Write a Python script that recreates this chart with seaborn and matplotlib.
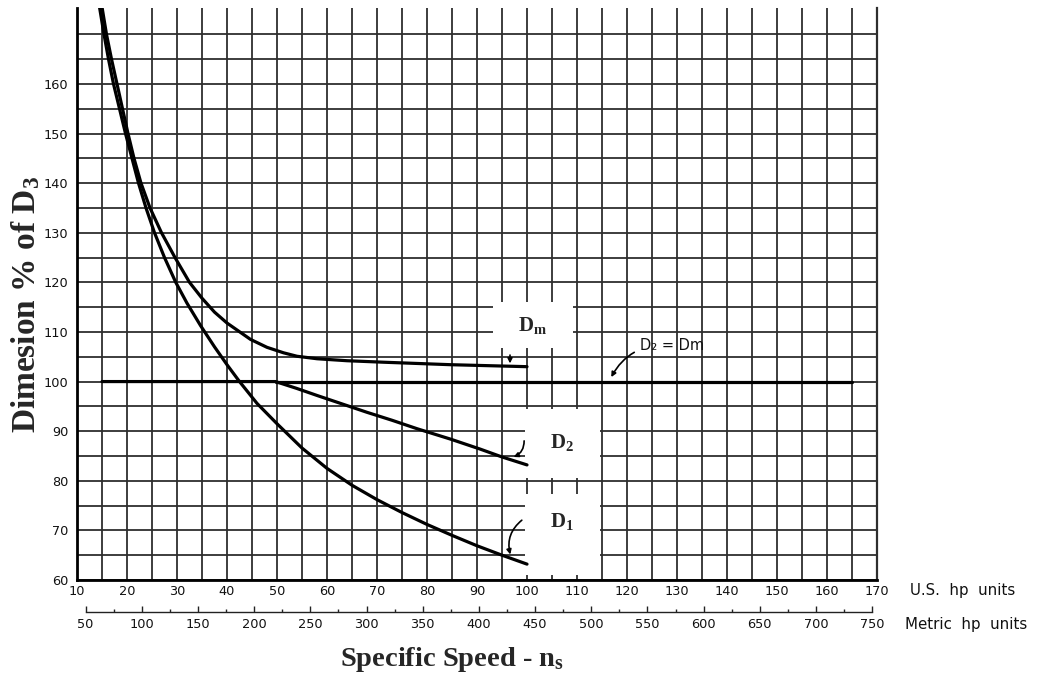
import numpy as np
import pandas as pd
import matplotlib
matplotlib.use("Agg")
import matplotlib.pyplot as plt
from matplotlib.patches import Rectangle
from matplotlib.ticker import FixedLocator
import seaborn as sns

# ---------------- data ----------------
d1_us = [14.5, 15.4, 16.3, 17.3, 18.5, 19.7, 21.0, 22.3, 23.8, 25.5, 27.5, 29.75,
         32.0, 34.7, 37.5, 40.0, 42.5, 46.0, 50.0, 55.0, 60.0, 65.0, 70.0, 75.0,
         80.0, 85.0, 90.0, 95.0, 100.0]
d1_val = [175.5, 170, 165, 160, 155, 150, 145, 140, 135, 130, 125, 120,
          115.8, 111.3, 107.0, 103.4, 100.0, 95.6, 91.5, 86.6, 82.5, 79.1, 76.2,
          73.6, 71.2, 69.0, 66.9, 65.0, 63.2]

dm_us = [15.0, 15.9, 16.9, 18.0, 19.1, 20.2, 21.4, 22.8, 24.6, 26.9, 29.6, 32.5,
         35.0, 37.5, 40.0, 44.7, 48.0, 51.3, 54.0, 58.0, 64.0, 71.3, 84.7, 100.0]
dm_val = [175.5, 170, 165, 160, 155, 150, 145, 140, 135, 130, 125, 120,
          116.8, 114.0, 111.8, 108.5, 106.9, 105.8, 105.1, 104.6, 104.2, 103.9,
          103.4, 103.0]

d2_us = [15.0, 49.7, 54.0, 58.0, 63.0, 68.0, 73.0, 78.0, 84.7, 90.6, 95.0, 100.0]
d2_val = [100, 100, 98.6, 97.2, 95.5, 93.8, 92.2, 90.5, 88.4, 86.4, 84.8, 83.2]

de_us = [49.7, 165.0]
de_val = [100, 100]

us_ticks = list(range(10, 171, 10))
y_ticks = list(range(60, 171, 10))
y_tick_labels = [str(v) for v in range(60, 161, 10)] + [""]
metric_ticks = list(range(50, 751, 50))


def us_to_metric(u):
    return (np.asarray(u) - 0.5) * 4.45


def metric_to_us(m):
    return np.asarray(m) / 4.45 + 0.5


df = pd.concat([
    pd.DataFrame({"us": d1_us, "val": d1_val, "curve": "D1"}),
    pd.DataFrame({"us": dm_us, "val": dm_val, "curve": "Dm"}),
    pd.DataFrame({"us": d2_us, "val": d2_val, "curve": "D2"}),
    pd.DataFrame({"us": de_us, "val": de_val, "curve": "De"}),
], ignore_index=True)

# ---------------- style ----------------
sns.set_theme(style="white")
plt.rcParams["font.family"] = ["DejaVu Sans"]
plt.rcParams["mathtext.fontset"] = "custom"
plt.rcParams["mathtext.rm"] = "Liberation Serif:bold"
plt.rcParams["mathtext.it"] = "Liberation Serif:bold:italic"
plt.rcParams["mathtext.bf"] = "Liberation Serif:bold"

W, H = 1058, 677
fig = plt.figure(figsize=(W / 100, H / 100), dpi=100)
ax = fig.add_axes([77 / W, 1 - 580 / H, 800 / W, 572 / H])
ax.set_facecolor("white")

ax.set_xlim(10, 170)
ax.set_ylim(60, 175.3)

ax.set_xticks(us_ticks)
ax.set_xticklabels([str(v) for v in us_ticks])
ax.xaxis.set_minor_locator(FixedLocator(np.arange(15, 170, 10)))
ax.set_yticks(y_ticks)
ax.set_yticklabels(y_tick_labels)
ax.yaxis.set_minor_locator(FixedLocator(np.arange(65, 171, 10)))

ax.grid(which="both", color="#2e2e2e", linewidth=1.3)
ax.set_axisbelow(True)
ax.tick_params(axis="both", which="both", length=0, labelsize=9.3,
               labelcolor="#111111")
ax.tick_params(axis="y", pad=6)
ax.tick_params(axis="x", pad=3.5)

ax.spines["top"].set_visible(False)
for s in ["left", "bottom"]:
    ax.spines[s].set_color("black")
    ax.spines[s].set_linewidth(2.0)
ax.spines["right"].set_color("#2e2e2e")
ax.spines["right"].set_linewidth(1.6)

# white label patches
for (x0, y0, w, h) in [(93.2, 106.8, 16.0, 9.2),
                       (99.6, 80.6, 15.0, 13.8),
                       (99.6, 61.0, 15.0, 16.4)]:
    ax.add_patch(Rectangle((x0, y0), w, h, facecolor="white",
                           edgecolor="none", zorder=1.5))

sns.lineplot(data=df, x="us", y="val", units="curve", estimator=None,
             sort=False, color="black", linewidth=2.3, ax=ax, zorder=3)
ax.set_xlabel("")
ax.set_ylabel("")

# curve labels
ax.text(101.2, 111.4, r"D$_\mathrm{m}$", fontsize=15, family="Liberation Serif",
        weight="bold", ha="center", va="center", zorder=4)
ax.text(107.0, 87.8, r"D$_\mathrm{2}$", fontsize=15, family="Liberation Serif",
        weight="bold", ha="center", va="center", zorder=4)
ax.text(107.0, 71.7, r"D$_\mathrm{1}$", fontsize=15, family="Liberation Serif",
        weight="bold", ha="center", va="center", zorder=4)

arrow_kw = dict(arrowstyle="-|>", color="black", lw=1.2, mutation_scale=7)
ax.annotate("", xy=(96.6, 103.1), xytext=(96.6, 105.9),
            arrowprops=arrow_kw, zorder=4)
ax.annotate("", xy=(96.8, 84.6), xytext=(99.4, 88.6),
            arrowprops=dict(connectionstyle="arc3,rad=-0.4", **arrow_kw),
            zorder=4)
ax.annotate("", xy=(96.8, 64.6), xytext=(99.4, 72.4),
            arrowprops=dict(connectionstyle="arc3,rad=0.35", **arrow_kw),
            zorder=4)
ax.annotate("D\u2082 = Dm", xy=(116.6, 100.4), xytext=(122.6, 107.2),
            fontsize=10.5, ha="left", va="center", color="#111111",
            arrowprops=dict(connectionstyle="arc3,rad=0.35", **arrow_kw),
            zorder=4)

# metric scale
sec = ax.secondary_xaxis(-0.056, functions=(us_to_metric, metric_to_us))
sec.set_xticks(metric_ticks)
sec.set_xticklabels([str(v) for v in metric_ticks])
sec.xaxis.set_minor_locator(FixedLocator(np.arange(75, 750, 50)))
sec.tick_params(which="major", direction="in", length=4.5, width=1.0,
                pad=4, labelsize=9.3, labelcolor="#111111", color="#222222")
sec.tick_params(which="minor", direction="in", length=2.5, width=1.0,
                color="#222222")
sec.spines["bottom"].set_bounds(50, 750)
sec.spines["bottom"].set_linewidth(1.0)
sec.spines["bottom"].set_color("#222222")

fig.text(910 / W, 1 - 590 / H, "U.S.  hp  units", fontsize=10.8,
         ha="left", va="center", color="#111111")
fig.text(905 / W, 1 - 624 / H, "Metric  hp  units", fontsize=10.8,
         ha="left", va="center", color="#111111")

fig.text(452 / W, 1 - 659 / H, r"Specific Speed - n$_\mathrm{s}$",
         family="Liberation Serif", weight="bold", fontsize=20.5,
         ha="center", va="center")
fig.text(26 / W, 1 - 305 / H, r"Dimesion % of D$_\mathrm{3}$",
         family="Liberation Serif", weight="bold", fontsize=24,
         rotation=90, ha="center", va="center")

fig.savefig("out.png", dpi=100, facecolor="white")
